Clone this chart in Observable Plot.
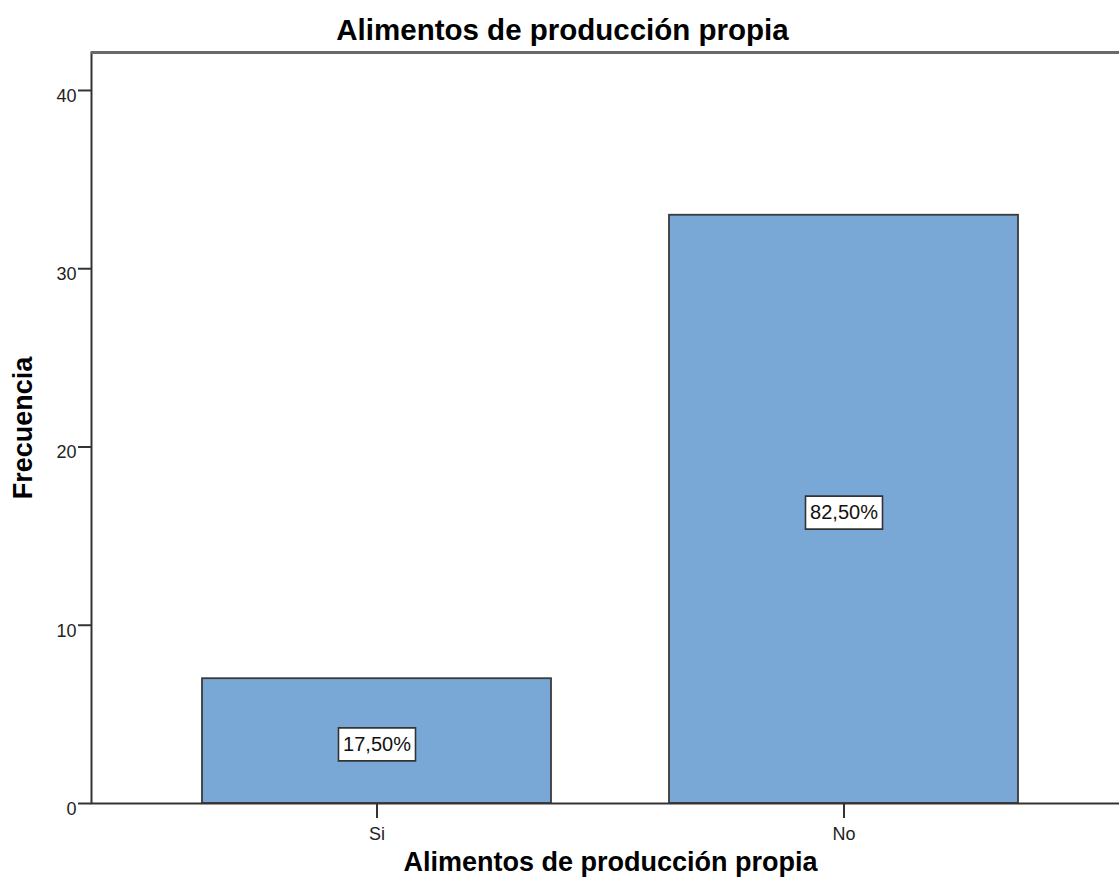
<!DOCTYPE html>
<html>
<head>
<meta charset="utf-8">
<script src="https://cdn.jsdelivr.net/npm/d3@7"></script>
<script src="https://cdn.jsdelivr.net/npm/@observablehq/plot@0.6"></script>
<style>
  html, body { margin: 0; padding: 0; background: white; }
  #wrap { width: 1119px; height: 888px; overflow: hidden; }
  #title {
    width: 1119px; height: 46px; box-sizing: border-box; padding-top: 14px; padding-left: 6px;
    text-align: center; font-family: "Liberation Sans", Arial, sans-serif;
    font-size: 29.5px; font-weight: bold; line-height: 1.117; color: #000;
    white-space: nowrap;
  }
</style>
</head>
<body>
<div id="wrap">
  <div id="title"></div>
  <div id="chart"></div>
</div>
<script>
const titleText = "Alimentos de producción propia";
const xLabel = "Alimentos de producción propia";
const yLabel = "Frecuencia";
const categories = ["Si", "No"];
const frequencies = [7, 33];
const percentLabels = ["17,50%", "82,50%"];
const yTicks = [0, 10, 20, 30, 40];
const yMax = 42.13;

document.getElementById("title").textContent = titleText;

const data = categories.map((c, i) => ({cat: c, freq: frequencies[i], pct: percentLabels[i]}));

const boxSymbol = {
  draw(ctx) {
    ctx.moveTo(-38.5, -16.5);
    ctx.lineTo(38.5, -16.5);
    ctx.lineTo(38.5, 16.5);
    ctx.lineTo(-38.5, 16.5);
    ctx.closePath();
  }
};

const chart = Plot.plot({
  width: 1119,
  height: 842,
  marginTop: 6,
  marginBottom: 85,
  marginLeft: 91,
  marginRight: 0,
  style: {background: "transparent", fontFamily: "'Liberation Sans', Arial, sans-serif", fontSize: "18px", color: "#222"},
  x: {domain: categories, range: [91, 1129.5], paddingInner: 0.2535, paddingOuter: 0.2374, tickSize: 15, tickPadding: 9, label: null},
  y: {domain: [0, yMax], ticks: yTicks, tickSize: 13, tickPadding: 2, label: null},
  marks: [
    Plot.barY(data, {x: "cat", y: "freq", fill: "#7aa8d6", stroke: "#3a3a3a", strokeWidth: 1.8}),
    Plot.frame({stroke: "#333", strokeWidth: 2, insetRight: -20}),
    Plot.ruleY([yMax], {stroke: "#6a6a6a", strokeWidth: 3}),
    Plot.dot(data, {x: "cat", y: d => d.freq / 2, symbol: boxSymbol, fill: "white", stroke: "#333", strokeWidth: 1.6, dy: 3.3}),
    Plot.text(data, {x: "cat", y: d => d.freq / 2, text: "pct", fontSize: 20, dy: 3.3, fill: "#111"}),
    Plot.text([xLabel], {text: d => d, frameAnchor: "bottom", dy: 59, dx: 5, fontSize: 27, fontWeight: "bold", lineAnchor: "middle", textAnchor: "middle", fill: "#000"}),
    Plot.text([yLabel], {text: d => d, frameAnchor: "left", dx: -68, rotate: -90, fontSize: 27, fontWeight: "bold", lineAnchor: "middle", textAnchor: "middle", fill: "#000"})
  ]
});
document.getElementById("chart").appendChild(chart);

// axis styling: thicker tick lines, label size and vertical offset of y tick labels
const svg = d3.select(chart.tagName.toLowerCase() === "svg" ? chart : chart.querySelector("svg"));
svg.selectAll('[aria-label^="y-axis"], [aria-label^="x-axis"]').style("font-size", "18px");
svg.selectAll('[aria-label^="y-axis"] line, [aria-label^="y-axis"] path, [aria-label^="x-axis"] line, [aria-label^="x-axis"] path')
  .attr("stroke-width", 2).attr("stroke", "#333");
svg.selectAll('[aria-label^="y-axis"] text').style("font-size", "18px").attr("dy", 5.5);
svg.selectAll('[aria-label^="x-axis"] text').style("font-size", "18px");
</script>
</body>
</html>
